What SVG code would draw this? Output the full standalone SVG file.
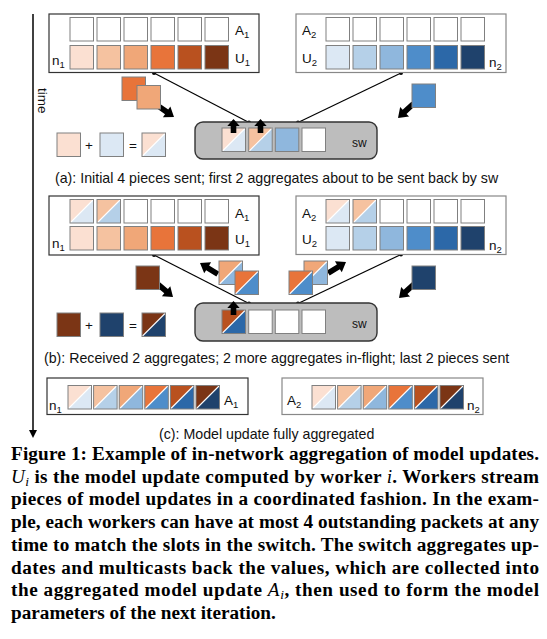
<svg xmlns="http://www.w3.org/2000/svg" xmlns:xlink="http://www.w3.org/1999/xlink" width="547" height="639" viewBox="0 0 547 639">
<style>
.bg{fill:#fff}
.sq{stroke:#808080;stroke-width:1}
.ovl{fill:none}
.lbl{font-family:"Liberation Sans",Arial,sans-serif;font-size:13.5px;fill:#111}
.sub{font-size:9.5px}
.cap{font-family:"Liberation Sans",Arial,sans-serif;font-size:14.2px;fill:#111}
.sw{font-family:"Liberation Sans",Arial,sans-serif;font-size:12px;fill:#111}
.fig{font-family:"Liberation Serif","Times New Roman",serif;font-weight:bold;font-size:19.2px;fill:#000}
.it{font-style:italic;font-weight:normal}
.conn{stroke:#000;stroke-width:1.2;fill:none}
.dot{fill:#000}
.box1{fill:#fff;stroke:#333;stroke-width:1.2}
.box2{fill:#fff;stroke:#888;stroke-width:1.2}
.swb{fill:#bdbdbd;stroke:#333;stroke-width:1.4}
.arr{fill:#000}
</style>
<defs>
<path id="tri" d="M0 0H23.5L0 23.5Z"/>
<g id="ov"><path d="M0 23.5L23.5 0" stroke="#fff" stroke-width="1.1"/><rect width="23.5" height="23.5" fill="none" stroke="#808080" stroke-width="1"/></g>
<rect id="s" width="23.5" height="23.5" stroke="#808080" stroke-width="1"/>
<path id="ar" d="M0 0L-9 -6.5L-9 -2.8L-21 -2.8L-21 2.8L-9 2.8L-9 6.5Z"/>
<path id="arS" d="M0 0L-7 -6.2L-7 -2.8L-14 -2.8L-14 2.8L-7 2.8L-7 6.2Z"/>
</defs>
<rect class="bg" width="547" height="639"/>

<!-- time axis -->
<g id="time">
<line x1="33" y1="14" x2="33" y2="431" stroke="#000" stroke-width="1.5"/>
<path d="M29 430L37 430L33 438Z" fill="#000"/>
<text class="lbl" transform="translate(38,88) rotate(90)" font-size="13">time</text>
</g>

<!-- connectors -->
<g id="connectors">
<line class="conn" x1="154" y1="73" x2="249" y2="122.5"/>
<circle class="dot" cx="154" cy="73" r="2"/><circle class="dot" cx="249" cy="122.5" r="2"/>
<line class="conn" x1="401" y1="73" x2="298" y2="122.5"/>
<circle class="dot" cx="401" cy="73" r="2"/><circle class="dot" cx="298" cy="122.5" r="2"/>
<line class="conn" x1="154" y1="255" x2="249" y2="303.5"/>
<circle class="dot" cx="154" cy="255" r="2"/><circle class="dot" cx="249" cy="303.5" r="2"/>
<line class="conn" x1="401" y1="254.5" x2="298" y2="303.5"/>
<circle class="dot" cx="401" cy="254.5" r="2"/><circle class="dot" cx="298" cy="303.5" r="2"/>
</g>

<!-- ===== (a) ===== -->
<g id="n1a">
<rect class="box1" x="49" y="14" width="210" height="58.5"/>
<use href="#s" x="70" y="17.5" fill="#fff"/><use href="#s" x="97" y="17.5" fill="#fff"/><use href="#s" x="124" y="17.5" fill="#fff"/><use href="#s" x="151" y="17.5" fill="#fff"/><use href="#s" x="178" y="17.5" fill="#fff"/><use href="#s" x="205" y="17.5" fill="#fff"/>
<use href="#s" x="70" y="45.5" fill="#FBE0D2"/><use href="#s" x="97" y="45.5" fill="#F5C2A0"/><use href="#s" x="124" y="45.5" fill="#F0A778"/><use href="#s" x="151" y="45.5" fill="#E8743A"/><use href="#s" x="178" y="45.5" fill="#B9511F"/><use href="#s" x="205" y="45.5" fill="#7B3515"/>
<text class="lbl" x="235" y="35">A<tspan class="sub" dy="3">1</tspan></text>
<text class="lbl" x="235" y="63">U<tspan class="sub" dy="3">1</tspan></text>
<text class="lbl" x="52" y="65">n<tspan class="sub" dy="3">1</tspan></text>
</g>
<g id="n2a">
<rect class="box2" x="296" y="14" width="210" height="58.5"/>
<use href="#s" x="326" y="17.5" fill="#fff"/><use href="#s" x="353" y="17.5" fill="#fff"/><use href="#s" x="380" y="17.5" fill="#fff"/><use href="#s" x="407" y="17.5" fill="#fff"/><use href="#s" x="434" y="17.5" fill="#fff"/><use href="#s" x="461" y="17.5" fill="#fff"/>
<use href="#s" x="326" y="45.5" fill="#DCE8F4"/><use href="#s" x="353" y="45.5" fill="#B5D0E8"/><use href="#s" x="380" y="45.5" fill="#8FB7DD"/><use href="#s" x="407" y="45.5" fill="#4E8DCA"/><use href="#s" x="434" y="45.5" fill="#2C68A8"/><use href="#s" x="461" y="45.5" fill="#1F426C"/>
<text class="lbl" x="302" y="35">A<tspan class="sub" dy="3">2</tspan></text>
<text class="lbl" x="302" y="63">U<tspan class="sub" dy="3">2</tspan></text>
<text class="lbl" x="489" y="67">n<tspan class="sub" dy="3">2</tspan></text>
</g>
<g id="flya">
<use href="#ar" class="arr" transform="translate(174,117) rotate(35)"/>
<use href="#s" x="122" y="77" fill="#E8743A"/>
<use href="#s" x="137" y="85.5" fill="#F0A778"/>
<use href="#ar" class="arr" transform="translate(398,118) rotate(137)"/>
<use href="#s" x="412" y="84" fill="#4E8DCA"/>
</g>
<g id="swa">
<rect class="swb" x="195" y="122" width="182" height="37" rx="8"/>
<g transform="translate(222,128)"><rect width="23.5" height="23.5" fill="#DCE8F4"/><use href="#tri" fill="#FBE0D2"/><use href="#ov"/></g>
<g transform="translate(248.7,128)"><rect width="23.5" height="23.5" fill="#B5D0E8"/><use href="#tri" fill="#F5C2A0"/><use href="#ov"/></g>
<use href="#s" x="275.3" y="128" fill="#8FB7DD"/>
<use href="#s" x="302" y="128" fill="#fff"/>
<text class="sw" x="352" y="147">sw</text>
<use href="#arS" class="arr" transform="translate(233.5,119) rotate(-90)"/>
<use href="#arS" class="arr" transform="translate(260.5,119) rotate(-90)"/>
</g>
<g id="eqa">
<use href="#s" x="57" y="133" fill="#FBE0D2"/>
<text class="lbl" x="89" y="150" text-anchor="middle">+</text>
<use href="#s" x="100" y="133" fill="#DCE8F4"/>
<text class="lbl" x="133" y="150" text-anchor="middle">=</text>
<g transform="translate(142,133)"><rect width="23.5" height="23.5" fill="#DCE8F4"/><use href="#tri" fill="#FBE0D2"/><use href="#ov"/></g>
</g>
<text class="cap" x="55" y="183">(a): Initial 4 pieces sent; first 2 aggregates about to be sent back by sw</text>

<!-- ===== (b) ===== -->
<g id="n1b">
<rect class="box1" x="49" y="196" width="210" height="59"/>
<g transform="translate(70,199.5)"><rect width="23.5" height="23.5" fill="#DCE8F4"/><use href="#tri" fill="#FBE0D2"/><use href="#ov"/></g>
<g transform="translate(97,199.5)"><rect width="23.5" height="23.5" fill="#B5D0E8"/><use href="#tri" fill="#F5C2A0"/><use href="#ov"/></g>
<use href="#s" x="124" y="199.5" fill="#fff"/><use href="#s" x="151" y="199.5" fill="#fff"/><use href="#s" x="178" y="199.5" fill="#fff"/><use href="#s" x="205" y="199.5" fill="#fff"/>
<use href="#s" x="70" y="226.5" fill="#FBE0D2"/><use href="#s" x="97" y="226.5" fill="#F5C2A0"/><use href="#s" x="124" y="226.5" fill="#F0A778"/><use href="#s" x="151" y="226.5" fill="#E8743A"/><use href="#s" x="178" y="226.5" fill="#B9511F"/><use href="#s" x="205" y="226.5" fill="#7B3515"/>
<text class="lbl" x="235" y="218">A<tspan class="sub" dy="3">1</tspan></text>
<text class="lbl" x="235" y="244">U<tspan class="sub" dy="3">1</tspan></text>
<text class="lbl" x="52" y="248">n<tspan class="sub" dy="3">1</tspan></text>
</g>
<g id="n2b">
<rect class="box2" x="296" y="196" width="210" height="58.5"/>
<g transform="translate(326,199.5)"><rect width="23.5" height="23.5" fill="#DCE8F4"/><use href="#tri" fill="#FBE0D2"/><use href="#ov"/></g>
<g transform="translate(353,199.5)"><rect width="23.5" height="23.5" fill="#B5D0E8"/><use href="#tri" fill="#F5C2A0"/><use href="#ov"/></g>
<use href="#s" x="380" y="199.5" fill="#fff"/><use href="#s" x="407" y="199.5" fill="#fff"/><use href="#s" x="434" y="199.5" fill="#fff"/><use href="#s" x="461" y="199.5" fill="#fff"/>
<use href="#s" x="326" y="226.5" fill="#DCE8F4"/><use href="#s" x="353" y="226.5" fill="#B5D0E8"/><use href="#s" x="380" y="226.5" fill="#8FB7DD"/><use href="#s" x="407" y="226.5" fill="#4E8DCA"/><use href="#s" x="434" y="226.5" fill="#2C68A8"/><use href="#s" x="461" y="226.5" fill="#1F426C"/>
<text class="lbl" x="302" y="218">A<tspan class="sub" dy="3">2</tspan></text>
<text class="lbl" x="302" y="244">U<tspan class="sub" dy="3">2</tspan></text>
<text class="lbl" x="489" y="250">n<tspan class="sub" dy="3">2</tspan></text>
</g>
<g id="flyb">
<use href="#ar" class="arr" transform="translate(173,297) rotate(40)"/>
<use href="#s" x="136" y="266" fill="#7B3515"/>
<use href="#ar" class="arr" transform="translate(200,263) rotate(-148)"/>
<g transform="translate(219,261)"><rect width="23.5" height="23.5" fill="#8FB7DD"/><use href="#tri" fill="#F0A778"/><use href="#ov"/></g>
<g transform="translate(235,271)"><rect width="23.5" height="23.5" fill="#4E8DCA"/><use href="#tri" fill="#E8743A"/><use href="#ov"/></g>
<use href="#ar" class="arr" transform="translate(346,262) rotate(-32)"/>
<g transform="translate(304,261)"><rect width="23.5" height="23.5" fill="#8FB7DD"/><use href="#tri" fill="#F0A778"/><use href="#ov"/></g>
<g transform="translate(289,271)"><rect width="23.5" height="23.5" fill="#4E8DCA"/><use href="#tri" fill="#E8743A"/><use href="#ov"/></g>
<use href="#ar" class="arr" transform="translate(399,298) rotate(137)"/>
<use href="#s" x="412" y="266" fill="#1F426C"/>
</g>
<g id="swb">
<rect class="swb" x="195" y="303" width="182" height="38" rx="8"/>
<g transform="translate(222,310)"><rect width="23.5" height="23.5" fill="#2C68A8"/><use href="#tri" fill="#B9511F"/><use href="#ov"/></g>
<use href="#s" x="248.7" y="310" fill="#fff"/>
<use href="#s" x="275.3" y="310" fill="#fff"/>
<use href="#s" x="302" y="310" fill="#fff"/>
<text class="sw" x="352" y="328">sw</text>
<use href="#arS" class="arr" transform="translate(233.5,301) rotate(-90)"/>
</g>
<g id="eqb">
<use href="#s" x="57" y="313" fill="#7B3515"/>
<text class="lbl" x="89" y="330" text-anchor="middle">+</text>
<use href="#s" x="100" y="313" fill="#1F426C"/>
<text class="lbl" x="133" y="330" text-anchor="middle">=</text>
<g transform="translate(142,313)"><rect width="23.5" height="23.5" fill="#1F426C"/><use href="#tri" fill="#7B3515"/><use href="#ov"/></g>
</g>
<text class="cap" x="44" y="363">(b): Received 2 aggregates; 2 more aggregates in-flight; last 2 pieces sent</text>

<!-- ===== (c) ===== -->
<g id="n1c">
<rect class="box1" x="47" y="378" width="201" height="36.5"/>
<g transform="translate(68,385.5)"><rect width="23.5" height="23.5" fill="#DCE8F4"/><use href="#tri" fill="#FBE0D2"/><use href="#ov"/></g>
<g transform="translate(93.6,385.5)"><rect width="23.5" height="23.5" fill="#B5D0E8"/><use href="#tri" fill="#F5C2A0"/><use href="#ov"/></g>
<g transform="translate(119.2,385.5)"><rect width="23.5" height="23.5" fill="#8FB7DD"/><use href="#tri" fill="#F0A778"/><use href="#ov"/></g>
<g transform="translate(144.8,385.5)"><rect width="23.5" height="23.5" fill="#4E8DCA"/><use href="#tri" fill="#E8743A"/><use href="#ov"/></g>
<g transform="translate(170.4,385.5)"><rect width="23.5" height="23.5" fill="#2C68A8"/><use href="#tri" fill="#B9511F"/><use href="#ov"/></g>
<g transform="translate(196,385.5)"><rect width="23.5" height="23.5" fill="#1F426C"/><use href="#tri" fill="#7B3515"/><use href="#ov"/></g>
<text class="lbl" x="224" y="405">A<tspan class="sub" dy="3">1</tspan></text>
<text class="lbl" x="49" y="410">n<tspan class="sub" dy="3">1</tspan></text>
</g>
<g id="n2c">
<rect class="box2" x="282" y="378" width="201" height="36.5"/>
<g transform="translate(312,385.5)"><rect width="23.5" height="23.5" fill="#DCE8F4"/><use href="#tri" fill="#FBE0D2"/><use href="#ov"/></g>
<g transform="translate(337.6,385.5)"><rect width="23.5" height="23.5" fill="#B5D0E8"/><use href="#tri" fill="#F5C2A0"/><use href="#ov"/></g>
<g transform="translate(363.2,385.5)"><rect width="23.5" height="23.5" fill="#8FB7DD"/><use href="#tri" fill="#F0A778"/><use href="#ov"/></g>
<g transform="translate(388.8,385.5)"><rect width="23.5" height="23.5" fill="#4E8DCA"/><use href="#tri" fill="#E8743A"/><use href="#ov"/></g>
<g transform="translate(414.4,385.5)"><rect width="23.5" height="23.5" fill="#2C68A8"/><use href="#tri" fill="#B9511F"/><use href="#ov"/></g>
<g transform="translate(440,385.5)"><rect width="23.5" height="23.5" fill="#1F426C"/><use href="#tri" fill="#7B3515"/><use href="#ov"/></g>
<text class="lbl" x="287" y="405">A<tspan class="sub" dy="3">2</tspan></text>
<text class="lbl" x="467" y="410">n<tspan class="sub" dy="3">2</tspan></text>
</g>
<text class="cap" x="159" y="438.5">(c): Model update fully aggregated</text>

<!-- ===== figure caption ===== -->
<g id="caption" class="fig">
<text x="11" y="460" textLength="528" lengthAdjust="spacing">Figure 1: Example of in-network aggregation of model updates.</text>
<text x="11" y="482.7" textLength="528" lengthAdjust="spacing"><tspan class="it">U</tspan><tspan class="it" font-size="13.5" dy="3">i</tspan><tspan dy="-3"> is the model update computed by worker </tspan><tspan class="it">i</tspan>. Workers stream</text>
<text x="11" y="505.4" textLength="528" lengthAdjust="spacing">pieces of model updates in a coordinated fashion. In the exam-</text>
<text x="11" y="528.1" textLength="528" lengthAdjust="spacing">ple, each workers can have at most 4 outstanding packets at any</text>
<text x="11" y="550.8" textLength="528" lengthAdjust="spacing">time to match the slots in the switch. The switch aggregates up-</text>
<text x="11" y="573.5" textLength="528" lengthAdjust="spacing">dates and multicasts back the values, which are collected into</text>
<text x="11" y="596.2" textLength="528" lengthAdjust="spacing">the aggregated model update <tspan class="it">A</tspan><tspan class="it" font-size="13.5" dy="3">i</tspan><tspan dy="-3">, then used to form the model</tspan></text>
<text x="11" y="618.9">parameters of the next iteration.</text>
</g>
</svg>
